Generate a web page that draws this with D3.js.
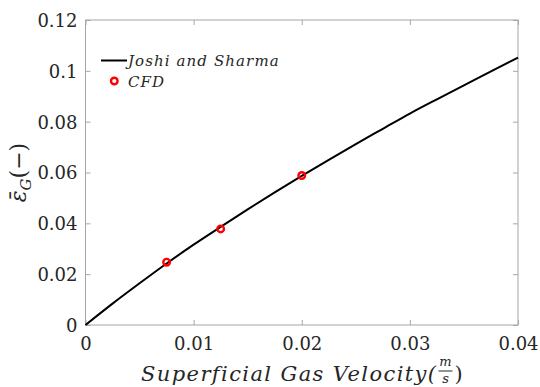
<!DOCTYPE html>
<html>
<head>
<meta charset="utf-8">
<script src="https://cdn.jsdelivr.net/npm/d3@7"></script>
<style>
  body { margin: 0; background: #fff; }
</style>
</head>
<body>
<svg width="540" height="387"></svg>
<script>
// Joshi and Sharma correlation curve
var lineVel = [0, 0.0025, 0.005, 0.0075, 0.01, 0.0125, 0.015, 0.0175, 0.02,
               0.0225, 0.025, 0.0275, 0.03, 0.0325, 0.035, 0.0375, 0.04];
var lineHoldup = [0, 0.0084, 0.0164, 0.0242, 0.0316, 0.0386, 0.0455, 0.0522, 0.0587,
                  0.0650, 0.0712, 0.0772, 0.0832, 0.0888, 0.0943, 0.0998, 0.1052];
// CFD points
var cfdVel = [0.0075, 0.0125, 0.02];
var cfdHoldup = [0.0247, 0.0378, 0.0588];

var xTicks = [0, 0.01, 0.02, 0.03, 0.04];
var xTickLabels = ["0", "0.01", "0.02", "0.03", "0.04"];
var yTicks = [0, 0.02, 0.04, 0.06, 0.08, 0.1, 0.12];
var yTickLabels = ["0", "0.02", "0.04", "0.06", "0.08", "0.1", "0.12"];
var legendNames = ["Joshi and Sharma", "CFD"];

var svg = d3.select("svg"),
    margin = {top: 20, right: 22, bottom: 62, left: 85.5},
    width = +svg.attr("width") - margin.left - margin.right,
    height = +svg.attr("height") - margin.top - margin.bottom,
    g = svg.append("g").attr("transform", "translate(" + margin.left + "," + margin.top + ")");

var serif = "DejaVu Serif";

var x = d3.scaleLinear().domain([0, 0.04]).range([0, width]);
var y = d3.scaleLinear().domain([0, 0.12]).range([height, 0]);

function styleAxis(sel) {
    sel.attr("font-family", serif).attr("font-size", 18);
    sel.select(".domain").remove();
    sel.selectAll(".tick line").attr("stroke", "#a6a6a6");
    sel.selectAll(".tick text").attr("fill", "#262626");
}

g.append("g")
    .attr("transform", "translate(0," + height + ")")
    .call(d3.axisBottom(x).tickValues(xTicks)
        .tickFormat(function (d, i) { return xTickLabels[i]; })
        .tickSizeInner(-5).tickSizeOuter(0).tickPadding(8))
    .call(styleAxis)
    .selectAll(".tick text").attr("dy", "0.95em");

g.append("g")
    .call(d3.axisLeft(y).tickValues(yTicks)
        .tickFormat(function (d, i) { return yTickLabels[i]; })
        .tickSizeInner(-5).tickSizeOuter(0).tickPadding(8))
    .call(styleAxis)
    .selectAll(".tick text").attr("dy", "0.36em");

g.append("g")
    .call(d3.axisTop(x).tickValues(xTicks).tickFormat("").tickSizeInner(-5).tickSizeOuter(0))
    .call(styleAxis);

g.append("g")
    .attr("transform", "translate(" + width + ",0)")
    .call(d3.axisRight(y).tickValues(yTicks).tickFormat("").tickSizeInner(-5).tickSizeOuter(0))
    .call(styleAxis);

g.append("rect")
    .attr("width", width).attr("height", height)
    .attr("fill", "none").attr("stroke", "#a6a6a6").attr("stroke-width", 1);

var lineData = lineVel.map(function (v, i) { return [v, lineHoldup[i]]; });
var cfdData = cfdVel.map(function (v, i) { return [v, cfdHoldup[i]]; });

g.append("path")
    .datum(lineData)
    .attr("fill", "none")
    .attr("stroke", "#000")
    .attr("stroke-width", 2)
    .attr("d", d3.line().curve(d3.curveMonotoneX)
        .x(function (d) { return x(d[0]); })
        .y(function (d) { return y(d[1]); }));

g.selectAll(".cfd")
    .data(cfdData)
    .enter().append("circle")
    .attr("class", "cfd")
    .attr("cx", function (d) { return x(d[0]); })
    .attr("cy", function (d) { return y(d[1]); })
    .attr("r", 3.3)
    .attr("fill", "none")
    .attr("stroke", "#ff0000")
    .attr("stroke-width", 2.4);

// legend
var leg = svg.append("g").attr("font-family", serif).attr("fill", "#262626");
leg.append("line")
    .attr("x1", 101).attr("x2", 127).attr("y1", 60.5).attr("y2", 60.5)
    .attr("stroke", "#000").attr("stroke-width", 2);
leg.append("circle")
    .attr("cx", 114.3).attr("cy", 81).attr("r", 3.3)
    .attr("fill", "none").attr("stroke", "#ff0000").attr("stroke-width", 2.4);
leg.selectAll(".legtext")
    .data(legendNames)
    .enter().append("text")
    .attr("class", "legtext")
    .attr("x", 128)
    .attr("y", function (d, i) { return 66 + i * 21; })
    .attr("font-size", "15px")
    .attr("font-style", "italic")
    .attr("letter-spacing", "1.1px")
    .text(function (d) { return d; });

// x axis title with fraction
var xt = svg.append("g").attr("font-family", serif).attr("fill", "#262626");
var part1 = xt.append("text")
    .attr("font-size", "21px").attr("font-style", "italic")
    .attr("letter-spacing", "1.4px")
    .attr("y", 381)
    .text("Superficial Gas Velocity(");
var w1 = part1.node().getComputedTextLength();
var fx = w1 + 1;
xt.append("text").attr("x", fx + 7).attr("y", 366).attr("text-anchor", "middle")
    .attr("font-size", "13px").attr("font-style", "italic").text("m");
xt.append("line").attr("x1", fx).attr("x2", fx + 14).attr("y1", 371).attr("y2", 371)
    .attr("stroke", "#262626").attr("stroke-width", 1);
xt.append("text").attr("x", fx + 7).attr("y", 383).attr("text-anchor", "middle")
    .attr("font-size", "13px").attr("font-style", "italic").text("s");
xt.append("text").attr("x", fx + 16).attr("y", 381)
    .attr("font-size", "21px").text(")");
var totalW = fx + 24;
xt.attr("transform", "translate(" + (margin.left + width / 2 - totalW / 2) + ",0)");

// y axis title
svg.append("text")
    .attr("font-family", serif)
    .attr("fill", "#262626")
    .attr("transform", "translate(26," + (margin.top + height / 2) + ") rotate(-90)")
    .attr("text-anchor", "middle")
    .attr("font-size", "22px")
    .call(function (t) {
        t.append("tspan").attr("font-style", "italic").text("\u03B5\u0304");
        t.append("tspan").attr("font-style", "italic").attr("font-size", "15px").attr("dy", 5).text("G");
        t.append("tspan").attr("dy", -5).text("(\u2212)");
    });
</script>
</body>
</html>
